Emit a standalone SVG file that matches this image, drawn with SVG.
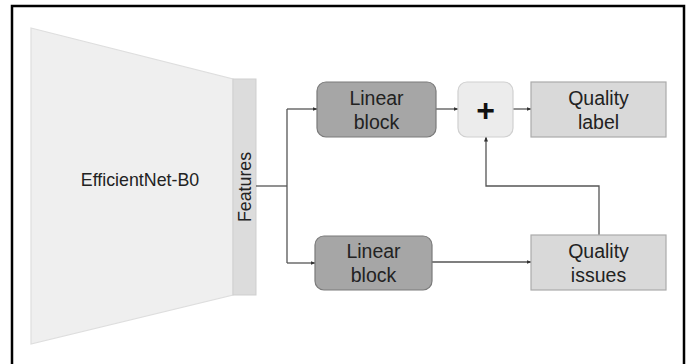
<svg xmlns="http://www.w3.org/2000/svg" width="687" height="364" viewBox="0 0 687 364">
  <defs>
    <marker id="arrow" viewBox="0 0 10 10" refX="9" refY="5" markerWidth="5" markerHeight="5" orient="auto" markerUnits="userSpaceOnUse">
      <path d="M0,1 L10,5 L0,9 Z" fill="#333"/>
    </marker>
    <style>
      .lbl { font-family: "Liberation Sans", Arial, sans-serif; font-size: 17.8px; fill: #222; text-anchor: middle; }
      .box { font-size: 19.5px; }
      .edge { fill: none; stroke: #555; stroke-width: 1.3; }
      .lin { fill: #a6a6a6; stroke: #7a7a7a; stroke-width: 1.2; }
      .out { fill: #d9d9d9; stroke: #ababab; stroke-width: 1.2; }
    </style>
  </defs>
  <rect width="687" height="364" fill="#ffffff"/>
  <!-- outer frame, open at the bottom -->
  <path d="M12,372 L12,6 L684,6 L684,372" fill="none" stroke="#000" stroke-width="2.5"/>

  <g id="backbone">
    <path d="M31,28 L233,79 L233,295 L31,344 Z" fill="#efefef" stroke="#dedede" stroke-width="1.2"/>
    <text class="lbl" x="140" y="186">EfficientNet-B0</text>
  </g>
  <g id="features">
    <rect x="233" y="79" width="23" height="216" fill="#dcdcdc" stroke="#cfcfcf" stroke-width="1"/>
    <text class="lbl" transform="translate(251,187) rotate(-90)">Features</text>
  </g>

  <g id="connectors">
    <path class="edge" d="M256,186 L287,186"/>
    <path class="edge" d="M287,109 L287,263"/>
    <path class="edge" d="M287,109 L317,109" marker-end="url(#arrow)"/>
    <path class="edge" d="M287,263 L315,263" marker-end="url(#arrow)"/>
    <path class="edge" d="M436,109 L458,109" marker-end="url(#arrow)"/>
    <path class="edge" d="M513,109 L531,109" marker-end="url(#arrow)"/>
    <path class="edge" d="M432,262 L531,262" marker-end="url(#arrow)"/>
    <path class="edge" d="M599,235 L599,186 L486,186 L486,137" marker-end="url(#arrow)"/>
  </g>

  <g id="linear-top">
    <rect class="lin" x="317" y="82" width="119" height="55" rx="9"/>
    <text class="lbl box" x="376.5" y="105">Linear</text>
    <text class="lbl box" x="376.5" y="129">block</text>
  </g>
  <g id="linear-bottom">
    <rect class="lin" x="315" y="236" width="117" height="54" rx="9"/>
    <text class="lbl box" x="373.5" y="258">Linear</text>
    <text class="lbl box" x="373.5" y="282">block</text>
  </g>
  <g id="sum">
    <rect x="458" y="82" width="55" height="55" rx="9" fill="#ececec" stroke="#d0d0d0" stroke-width="1.2"/>
    <text x="485.5" y="121" font-family="Liberation Sans, Arial, sans-serif" font-size="32" font-weight="bold" fill="#111" text-anchor="middle">+</text>
  </g>
  <g id="quality-label">
    <rect class="out" x="531" y="82" width="135" height="55"/>
    <text class="lbl box" x="598.5" y="105">Quality</text>
    <text class="lbl box" x="598.5" y="129">label</text>
  </g>
  <g id="quality-issues">
    <rect class="out" x="531" y="235" width="135" height="55"/>
    <text class="lbl box" x="598.5" y="258">Quality</text>
    <text class="lbl box" x="598.5" y="282">issues</text>
  </g>
</svg>
